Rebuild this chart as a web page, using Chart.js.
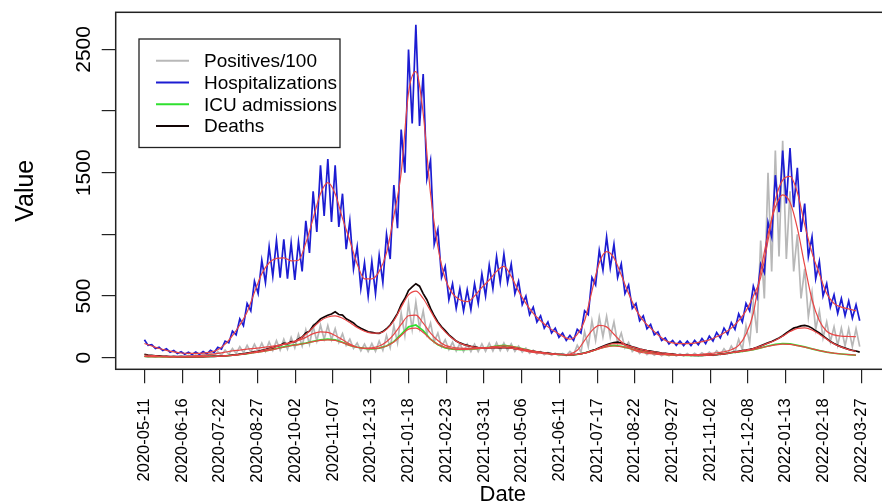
<!DOCTYPE html>
<html>
<head>
<meta charset="utf-8">
<script src="https://cdn.jsdelivr.net/npm/chart.js@4.4.1/dist/chart.umd.min.js"></script>
<style>
  html, body { margin: 0; padding: 0; background: #fff; overflow: hidden; }
  #wrap { width: 882px; height: 503px; overflow: hidden; }
  canvas { display: block; }
</style>
</head>
<body>
<div id="wrap"><canvas id="chart" width="900" height="503"></canvas></div>
<script>
// DATA (day index counted from 2020-05-11)

const tickDays = [0, 36, 72, 108, 144, 180, 216, 252, 288, 324, 360, 396, 432, 468, 504, 540, 576, 612, 648, 684];
const tickLabels = [
  "2020-05-11", "2020-06-16", "2020-07-22", "2020-08-27", "2020-10-02",
  "2020-11-07", "2020-12-13", "2021-01-18", "2021-02-23", "2021-03-31",
  "2021-05-06", "2021-06-11", "2021-07-17", "2021-08-22", "2021-09-27",
  "2021-11-02", "2021-12-08", "2022-01-13", "2022-02-18", "2022-03-27"
];
const yTicks = [0, 500, 1000, 1500, 2000, 2500];
const yTickLabels = ["0", "500", "", "1500", "", "2500"];

// raw series, one value every 3.5 days
const rawStep = 3.5;
const positives = [
  15,5, 14,5, 13,4, 13,4, 14,5, 15,6, 18,7, 22,9, 28,12, 38,16,
  48,22, 62,28, 75,35, 90,40, 100,45, 110,50, 118,52, 128,58, 138,62, 150,70,
  165,80, 190,95, 225,110, 255,135, 265,150, 260,145, 235,125, 195,100, 150,75, 120,55,
  110,50, 115,52, 135,60, 180,80, 260,120, 360,180, 440,230, 450,240, 380,190, 280,130,
  200,90, 145,65, 125,55, 115,50, 110,50, 110,50, 112,52, 118,55, 122,58, 120,58,
  112,52, 95,45, 78,36, 62,30, 50,24, 42,20, 36,18, 34,17, 50,25, 100,45,
  210,90, 300,140, 330,170, 335,165, 290,120, 200,80, 125,50, 80,35, 60,26, 48,20,
  40,17, 35,15, 32,14, 32,14, 34,15, 36,16, 40,18, 46,20, 56,25, 72,32,
  95,45, 150,65, 260,120, 450,200, 950,480, 1500,700, 1680,820, 1760,800, 1350,700, 1000,480,
  720,330, 530,230, 380,160, 290,130, 250,100, 240,95, 235,90, 235,90
];
const hospitalizations = [
  145,100, 105,75, 85,58, 72,45, 58,34, 48,28, 45,26, 46,27, 50,30, 60,42,
  85,70, 135,120, 215,185, 315,260, 440,380, 620,520, 790,610, 900,660, 950,650, 960,640,
  930,630, 940,700, 1110,850, 1350,1020, 1560,1150, 1610,1100, 1560,1060, 1330,880, 1110,720, 900,560,
  770,500, 780,520, 830,610, 1000,800, 1400,1050, 1850,1500, 2500,1900, 2700,1880, 2300,1450, 1600,920,
  1040,650, 740,470, 600,400, 560,380, 550,390, 600,440, 680,500, 750,560, 820,610, 840,610,
  760,520, 620,430, 500,350, 410,290, 340,240, 290,200, 240,165, 200,140, 180,140, 230,200,
  380,350, 650,590, 870,710, 980,730, 920,650, 760,520, 590,400, 440,300, 340,235, 270,185,
  210,140, 160,112, 140,100, 135,98, 135,98, 140,105, 155,115, 175,135, 205,160, 240,190,
  285,230, 355,290, 440,380, 580,490, 760,690, 1100,980, 1480,1180, 1680,1250, 1700,1220, 1540,1020,
  1250,820, 980,640, 780,500, 600,410, 510,360, 480,340, 460,320, 430,300
];
const deaths = [
  28,22, 20,16, 15,12, 12,10, 10,9, 9,8, 8,8, 9,8, 9,10, 11,11,
  12,14, 16,18, 21,24, 29,31, 37,42, 50,52, 60,66, 76,80, 95,100, 118,112,
  130,128, 152,168, 200,215, 258,285, 315,330, 345,355, 372,350, 345,315, 300,282, 255,238,
  225,210, 205,200, 198,212, 235,265, 310,360, 430,480, 545,575, 600,580, 520,470, 400,340,
  290,250, 220,185, 160,135, 120,108, 100,92, 88,82, 80,78, 79,82, 82,80, 84,80,
  80,74, 72,66, 62,56, 52,48, 44,40, 37,33, 30,28, 26,24, 24,25, 28,32,
  38,46, 57,66, 80,92, 104,115, 122,126, 118,108, 98,88, 80,70, 64,57, 53,47,
  43,38, 35,32, 29,26, 24,22, 21,20, 19,19, 19,20, 21,23, 25,28, 31,36,
  42,47, 52,57, 62,68, 75,85, 96,108, 120,132, 145,160, 178,200, 220,240, 248,258,
  262,255, 240,218, 200,176, 155,132, 115,100, 88,78, 68,60, 54,45
];

// weekly series
const weekStep = 7;
const icuAdmissions = [
  10, 9, 8, 7, 6, 6, 6, 7, 8, 10, 12, 15, 20, 26, 33, 42, 52, 62, 75, 88,
  100, 108, 118, 132, 145, 150, 145, 125, 100, 85, 75, 72, 78, 95, 130, 190, 250, 265, 220, 150,
  105, 80, 70, 66, 68, 72, 78, 85, 95, 100, 92, 80, 65, 52, 42, 34, 28, 24, 22, 26,
  38, 55, 75, 92, 100, 92, 78, 62, 50, 40, 32, 26, 22, 20, 18, 18, 19, 22, 26, 32,
  40, 48, 56, 66, 80, 95, 108, 115, 112, 100, 88, 72, 58, 45, 36, 30, 25, 20
];

// smoothed curves (red), weekly
const positivesSmooth = [
  10, 9, 8, 8, 9, 10, 12, 15, 20, 27, 35, 45, 55, 62, 70, 76, 82, 90, 98, 108,
  120, 140, 165, 195, 210, 205, 180, 145, 110, 85, 76, 80, 95, 130, 190, 270, 340, 345, 280, 200,
  140, 100, 85, 78, 75, 75, 78, 82, 86, 85, 78, 66, 54, 44, 36, 30, 26, 25, 30, 60,
  140, 220, 262, 250, 190, 130, 85, 55, 40, 32, 27, 24, 22, 22, 23, 25, 28, 33, 40, 48,
  65, 100, 190, 360, 700, 1000, 1220, 1320, 1260, 1050, 750, 470, 300, 215, 185, 175, 172, 170
];
const hospSmooth = [
  115, 95, 75, 60, 48, 38, 35, 35, 37, 45, 65, 110, 180, 265, 370, 530, 680, 770, 805, 810,
  785, 790, 930, 1130, 1330, 1420, 1330, 1130, 950, 760, 640, 640, 700, 850, 1150, 1500, 2150, 2320, 1980, 1330,
  900, 640, 520, 470, 455, 500, 570, 630, 700, 740, 660, 540, 440, 360, 300, 250, 210, 175, 150, 190,
  300, 540, 770, 860, 810, 670, 520, 390, 300, 240, 185, 140, 120, 115, 115, 118, 130, 145, 170, 200,
  240, 300, 380, 500, 650, 950, 1280, 1440, 1470, 1340, 1080, 850, 680, 520, 440, 410, 395, 380
];
const icuSmooth = [
  10, 9, 8, 7, 7, 6, 7, 7, 8, 10, 12, 15, 19, 25, 32, 41, 50, 60, 72, 85,
  97, 106, 117, 130, 140, 145, 140, 122, 100, 85, 76, 73, 78, 95, 128, 180, 232, 240, 205, 150,
  108, 84, 72, 68, 68, 72, 78, 85, 93, 97, 92, 80, 66, 53, 43, 35, 29, 25, 23, 26,
  37, 53, 72, 88, 95, 90, 78, 63, 51, 41, 33, 27, 23, 20, 19, 18, 19, 22, 26, 32,
  40, 48, 56, 66, 80, 93, 104, 110, 108, 98, 86, 72, 58, 46, 37, 30, 25, 21
];
const deathsSmooth = [
  22, 18, 14, 11, 9, 8, 8, 8, 9, 10, 12, 15, 20, 27, 36, 47, 58, 72, 90, 110,
  125, 148, 190, 245, 300, 330, 340, 320, 285, 245, 215, 200, 200, 230, 300, 410, 510, 540, 480, 380,
  280, 210, 155, 118, 98, 86, 80, 78, 80, 81, 78, 70, 60, 51, 43, 36, 30, 26, 24, 27,
  37, 55, 78, 100, 115, 112, 96, 78, 63, 52, 42, 35, 29, 24, 21, 19, 19, 21, 24, 30,
  42, 52, 62, 75, 95, 118, 142, 175, 212, 238, 242, 225, 190, 150, 112, 86, 66, 52
];

const FONT = "'Liberation Sans', Arial, Helvetica, sans-serif";

function toPoints(values, step) {
  return values.map((v, i) => ({ x: i * step, y: v }));
}

function rawLine(label, values, step, color, order) {
  return {
    label,
    data: toPoints(values, step),
    borderColor: color,
    borderWidth: 1.7,
    pointRadius: 0,
    tension: 0,
    order,
    inLegend: true
  };
}

function smoothLine(values) {
  return {
    label: "smooth",
    data: toPoints(values, weekStep),
    borderColor: "#e84545",
    borderWidth: 1.2,
    pointRadius: 0,
    cubicInterpolationMode: "monotone",
    order: 0,
    inLegend: false
  };
}

// LEGEND, FRAME, ROTATED Y LABELS, AXIS TITLES

const decor = {
  id: "decor",
  afterDraw(chart) {
    const ctx = chart.ctx;
    const area = chart.chartArea;
    const yScale = chart.scales.y;

    ctx.save();
    ctx.strokeStyle = "#222";
    ctx.lineWidth = 1.5;
    ctx.strokeRect(area.left, area.top, area.right - area.left, area.bottom - area.top);

    ctx.fillStyle = "#000";
    ctx.font = "21px " + FONT;
    ctx.textAlign = "center";
    ctx.textBaseline = "alphabetic";
    yTicks.forEach((v, i) => {
      if (!yTickLabels[i]) return;
      ctx.save();
      ctx.translate(90, yScale.getPixelForValue(v));
      ctx.rotate(-Math.PI / 2);
      ctx.fillText(yTickLabels[i], 0, 0);
      ctx.restore();
    });

    ctx.font = "25px " + FONT;
    ctx.save();
    ctx.translate(33, (area.top + area.bottom) / 2);
    ctx.rotate(-Math.PI / 2);
    ctx.fillText("Value", 0, 0);
    ctx.restore();

    ctx.font = "22px " + FONT;
    ctx.fillText("Date", (area.left + area.right) / 2, 501);

    // legend box
    const box = { left: 139, top: 39, right: 340, bottom: 147.5 };
    ctx.fillStyle = "#fff";
    ctx.fillRect(box.left, box.top, box.right - box.left, box.bottom - box.top);
    ctx.strokeStyle = "#222";
    ctx.lineWidth = 1.3;
    ctx.strokeRect(box.left, box.top, box.right - box.left, box.bottom - box.top);

    const items = chart.data.datasets.filter(d => d.inLegend);
    ctx.font = "19px " + FONT;
    ctx.textAlign = "left";
    ctx.textBaseline = "middle";
    items.forEach((d, i) => {
      const y = 60.7 + i * 21.8;
      ctx.strokeStyle = d.borderColor;
      ctx.lineWidth = 2;
      ctx.beginPath();
      ctx.moveTo(156, y);
      ctx.lineTo(189, y);
      ctx.stroke();
      ctx.fillStyle = "#000";
      ctx.fillText(d.label, 204, y + 1);
    });
    ctx.restore();
  }
};

new Chart(document.getElementById("chart").getContext("2d"), {
  type: "line",
  data: {
    datasets: [
      rawLine("Positives/100", positives, rawStep, "#b8b8b8", 6),
      rawLine("Hospitalizations", hospitalizations, rawStep, "#1c1cd2", 5),
      rawLine("ICU admissions", icuAdmissions, weekStep, "#2fe02f", 4),
      rawLine("Deaths", deaths, rawStep, "#120404", 3),
      smoothLine(positivesSmooth),
      smoothLine(hospSmooth),
      smoothLine(icuSmooth),
      smoothLine(deathsSmooth)
    ]
  },
  options: {
    responsive: false,
    animation: false,
    layout: { padding: { top: 12.3, right: 10, left: 0, bottom: 0 } },
    plugins: {
      legend: { display: false },
      tooltip: { enabled: false }
    },
    scales: {
      x: {
        type: "linear",
        min: -27.4,
        max: 711.4,
        afterBuildTicks: axis => {
          axis.ticks = tickDays.map(v => ({ value: v }));
        },
        afterFit: scale => { scale.height = 133.7; },
        ticks: {
          autoSkip: false,
          minRotation: 90,
          maxRotation: 90,
          padding: 15,
          color: "#000",
          font: { size: 16.5, family: FONT },
          callback: (value, index) => tickLabels[index]
        },
        grid: { drawOnChartArea: false, drawTicks: true, tickLength: 14, color: "#222", lineWidth: 1.2 },
        border: { display: false }
      },
      y: {
        type: "linear",
        min: -94,
        max: 2801,
        afterBuildTicks: axis => {
          axis.ticks = yTicks.map(v => ({ value: v }));
        },
        afterFit: scale => { scale.width = 115.7; },
        ticks: { display: false },
        grid: { drawOnChartArea: false, drawTicks: true, tickLength: 14, color: "#222", lineWidth: 1.2 },
        border: { display: false }
      }
    }
  },
  plugins: [decor]
});
</script>
</body>
</html>
